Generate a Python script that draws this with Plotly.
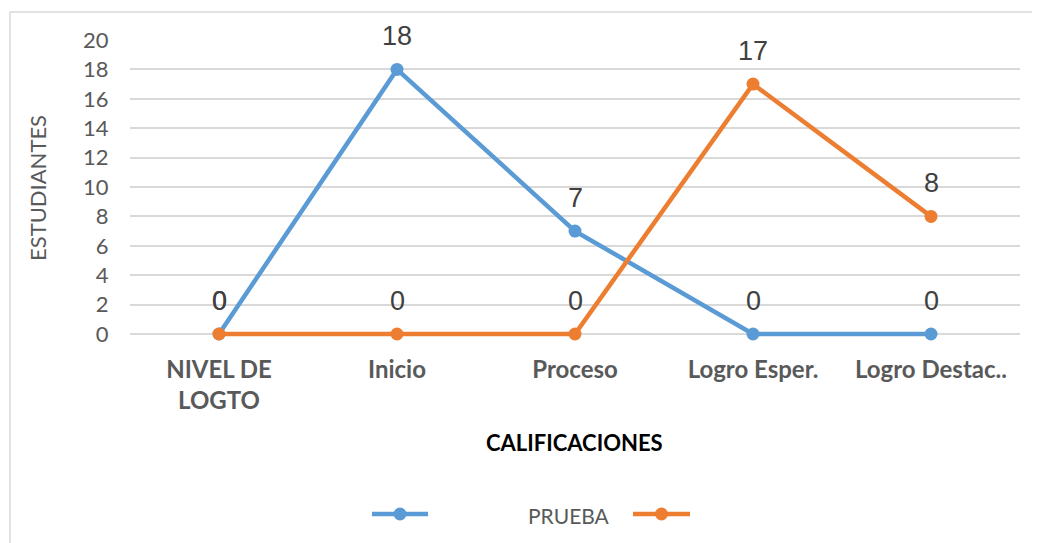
import plotly.graph_objects as go

categories = ["NIVEL DE<br>LOGTO", "Inicio", "Proceso", "Logro Esper.", "Logro Destac.."]
serie_azul = [0, 18, 7, 0, 0]
serie_naranja = [0, 0, 0, 17, 8]
y_ticks = [0, 2, 4, 6, 8, 10, 12, 14, 16, 18, 20]
legend_label = "PRUEBA"

BLUE = "#5B9BD5"
ORANGE = "#ED7D31"
FONT = "Liberation Sans Narrow, Liberation Sans, Arial"
CAL = "Lato, Open Sans, sans-serif"

OFF = 8  # page body margin
FW, FH = 1040 - OFF, 543 - OFF
L, T, W = 130 - OFF, 40 - OFF, 890
PXU = 294 / 20.0
EXTRA = 6
H = 294 + EXTRA
YMIN = -EXTRA / PXU

fig = go.Figure()
for vals, col in [(serie_azul, BLUE), (serie_naranja, ORANGE)]:
    fig.add_trace(go.Scatter(
        x=list(range(len(categories))), y=vals, mode="lines+markers",
        line=dict(color=col, width=4.5), marker=dict(color=col, size=13),
        showlegend=False, hoverinfo="skip", cliponaxis=False))

for vals in (serie_azul, serie_naranja):
    for i, v in enumerate(vals):
        fig.add_annotation(x=i, y=v, text=str(v), showarrow=False,
                           xanchor="center", yanchor="middle",
                           yshift=33, font=dict(family=FONT, size=27, color="#404040"))

# page-pixel helpers (reference coordinates)
def px(x): return (x - OFF - L) / W
def py(y): return 1 - (y - OFF - T) / H

fig.add_shape(type="rect", xref="paper", yref="paper",
              x0=px(10), x1=px(1060), y0=py(12), y1=py(580),
              line=dict(color="#D9D9D9", width=1.5), fillcolor="rgba(0,0,0,0)", layer="below")

# legend
for (xa, xb, col) in [(372, 428, BLUE), (633, 690, ORANGE)]:
    fig.add_shape(type="line", xref="paper", yref="paper", x0=px(xa), x1=px(xb),
                  y0=py(514), y1=py(514), line=dict(color=col, width=4.5))
    cx = (xa + xb) / 2
    fig.add_shape(type="circle", xref="paper", yref="paper",
                  x0=px(cx - 6.5), x1=px(cx + 6.5), y0=py(520.5), y1=py(507.5),
                  line=dict(color=col, width=0), fillcolor=col)
fig.add_annotation(xref="paper", yref="paper", x=px(569), y=py(515), text=legend_label,
                   xanchor="center", yanchor="middle",
                   showarrow=False, font=dict(family=CAL, size=21, color="#595959"))

fig.add_annotation(xref="paper", yref="paper", x=px(574), y=py(442), text="<b>CALIFICACIONES</b>",
                   xanchor="center", yanchor="middle",
                   showarrow=False, font=dict(family=CAL, size=22, color="#000000"))

fig.add_annotation(xref="paper", yref="paper", x=px(37), y=py(188), text="ESTUDIANTES",
                   xanchor="center", yanchor="middle",
                   textangle=-90, showarrow=False, font=dict(family=CAL, size=22, color="#595959"))

fig.update_layout(
    width=FW, height=FH,
    margin=dict(l=L, r=FW - L - W, t=T, b=FH - T - H, pad=0),
    paper_bgcolor="white", plot_bgcolor="white",
    xaxis=dict(range=[-0.5, 4.5], tickmode="array", tickvals=list(range(len(categories))),
               ticktext=["<b>" + c + "</b>" for c in categories],
               tickfont=dict(family=CAL, size=24, color="#595959"),
               showgrid=False, zeroline=False, showline=False,
               ticks="outside", ticklen=8, tickcolor="rgba(0,0,0,0)"),
    yaxis=dict(range=[YMIN, 20], tickvals=y_ticks, showgrid=True, gridcolor="#D9D9D9", gridwidth=1.5,
               zeroline=False, showline=False,
               tickfont=dict(family=CAL, size=22, color="#595959"),
               ticks="outside", ticklen=16, tickcolor="rgba(0,0,0,0)"),
)
fig.write_html("out.html")
